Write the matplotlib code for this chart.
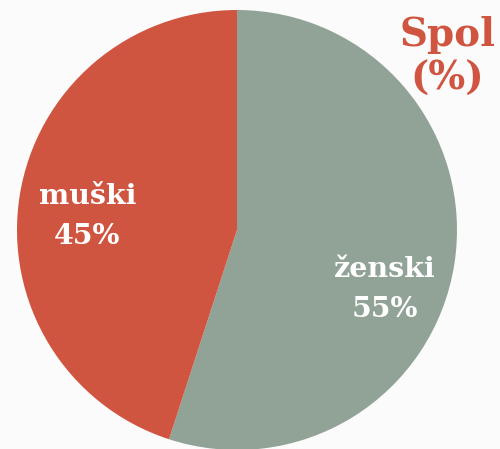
import matplotlib.pyplot as plt

labels = ['ženski', 'muški']
values = [55, 45]
colors = ['#91A397', '#CF5540']
title = 'Spol\n(%)'

fig = plt.figure(figsize=(5.0, 4.49), dpi=100)
fig.patch.set_facecolor('#FBFBFC')

# pie centred at (237, 230) px, radius 220 px
ax = fig.add_axes([(237 - 220) / 500, (219 - 220) / 449, 440 / 500, 440 / 449])
ax.pie(values, colors=colors, startangle=90, counterclock=False, radius=1.0,
       wedgeprops=dict(linewidth=0))
ax.set_xlim(-1, 1)
ax.set_ylim(-1, 1)
ax.set_aspect('equal')
ax.axis('off')

font = dict(family='DejaVu Serif', weight='bold', color='white', ha='center', va='center')
ax.text(0.673, -0.27, f'{labels[0]}\n{values[0]}%', fontsize=20.5, linespacing=1.6, **font)
ax.text(-0.68, 0.06, f'{labels[1]}\n{values[1]}%', fontsize=20.5, linespacing=1.6, **font)

fig.text(447 / 500, 1 - 57 / 449, title, fontsize=28, family='DejaVu Serif', weight='bold',
         color='#CF5540', ha='center', va='center', linespacing=1.2)

fig.savefig('out.png', dpi=100, facecolor=fig.get_facecolor())
